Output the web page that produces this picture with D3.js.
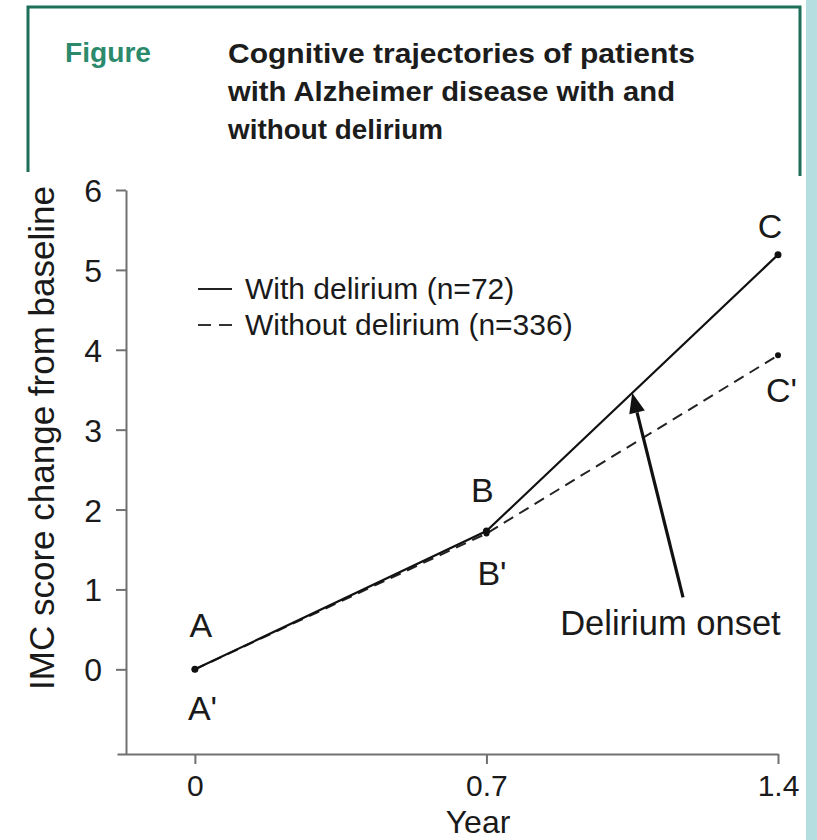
<!DOCTYPE html>
<html>
<head>
<meta charset="utf-8">
<script src="https://cdn.jsdelivr.net/npm/d3@7"></script>
<style>
  html, body { margin: 0; padding: 0; background: #ffffff; }
  svg { display: block; }
</style>
</head>
<body>
<svg id="chart" width="817" height="840"></svg>
<script>
// ---- data ----
const years = [0, 0.7, 1.4];
const withDelirium = [0, 1.73, 5.19];
const withoutDelirium = [0, 1.70, 3.93];
const withLabels = ["A", "B", "C"];
const withoutLabels = ["A'", "B'", "C'"];
const yTicks = [0, 1, 2, 3, 4, 5, 6];
const xTicks = [0, 0.7, 1.4];
const xTickLabels = ["0", "0.7", "1.4"];
const legendLabels = ["With delirium (n=72)", "Without delirium (n=336)"];
const titleLines = ["Cognitive trajectories of patients", "with Alzheimer disease with and", "without delirium"];
const onsetYear = 1.05;
const onsetTail = [1.172, 0.90];
const onsetTextAt = [0.877, 0.43];
const onsetText = "Delirium onset";

// ---- layout ----
const svg = d3.select("#chart");
const FONT = "'Liberation Sans', Arial, Helvetica, sans-serif";
const ink = "#1a1a1a";
const axisGray = "#707070";

// right light-blue strip
svg.append("rect").attr("x", 806).attr("y", 0).attr("width", 11).attr("height", 840).attr("fill", "#b5dee1");

// title box (open at bottom)
svg.append("path")
  .attr("d", "M28,172 L28,7 L800,7 L800,176")
  .attr("fill", "none").attr("stroke", "#1d6f57").attr("stroke-width", 3);

svg.append("text").attr("x", 65).attr("y", 62)
  .attr("font-family", "'Liberation Sans Narrow', " + FONT).attr("font-weight", "bold")
  .attr("font-size", 27).attr("fill", "#2b8a6c")
  .attr("textLength", 86).attr("lengthAdjust", "spacingAndGlyphs")
  .text("Figure");

const titleWidths = [467, 447, 215];
const titleBase = [63, 101, 139];
titleLines.forEach((t, i) => {
  svg.append("text").attr("x", 228).attr("y", titleBase[i])
    .attr("font-family", "'Liberation Sans Narrow', " + FONT).attr("font-weight", "bold")
    .attr("font-size", 28).attr("fill", "#1c1c1c")
    .attr("textLength", titleWidths[i]).attr("lengthAdjust", "spacingAndGlyphs")
    .text(t);
});

// ---- scales ----
const x = d3.scaleLinear().domain([-0.187, 1.4]).range([117, 778]);
const y = d3.scaleLinear().domain([-1.06, 6]).range([754, 190]);
const yAxisX = 126;

// y axis
const yAxis = d3.axisLeft(y).tickValues(yTicks).tickSize(10).tickSizeOuter(0).tickPadding(14).tickFormat(d3.format("d"));
const gy = svg.append("g").attr("transform", `translate(${yAxisX},0)`).call(yAxis);
gy.select(".domain").attr("stroke", axisGray).attr("stroke-width", 2);
gy.selectAll(".tick line").attr("stroke", axisGray).attr("stroke-width", 2);
gy.selectAll(".tick text").attr("font-family", FONT).attr("font-size", 32).attr("fill", ink).attr("dy", "0.36em");

// x axis
const xAxis = d3.axisBottom(x).tickValues(xTicks).tickSize(10).tickSizeOuter(0).tickPadding(11)
  .tickFormat((d, i) => xTickLabels[i]);
const gx = svg.append("g").attr("transform", `translate(0,${y(-1.06)})`).call(xAxis);
gx.select(".domain").attr("stroke", axisGray).attr("stroke-width", 2);
gx.selectAll(".tick line").attr("stroke", axisGray).attr("stroke-width", 2);
gx.selectAll(".tick text").attr("font-family", FONT).attr("font-size", 30).attr("fill", ink).attr("dy", "0.71em");

// axis titles
svg.append("text")
  .attr("transform", `translate(54,438) rotate(-90)`)
  .attr("text-anchor", "middle").attr("font-family", FONT).attr("font-size", 35).attr("fill", ink)
  .text("IMC score change from baseline");
svg.append("text").attr("x", 478).attr("y", 833)
  .attr("text-anchor", "middle").attr("font-family", FONT).attr("font-size", 32).attr("fill", ink)
  .text("Year");

// ---- lines ----
const line = d3.line().x(d => x(d[0])).y(d => y(d[1]));
const withData = years.map((yr, i) => [yr, withDelirium[i]]);
const withoutData = years.map((yr, i) => [yr, withoutDelirium[i]]);

svg.append("path").datum(withoutData).attr("d", line)
  .attr("fill", "none").attr("stroke", "#222").attr("stroke-width", 2).attr("stroke-dasharray", "11,7");
svg.append("path").datum(withData).attr("d", line)
  .attr("fill", "none").attr("stroke", "#111").attr("stroke-width", 2.2);

svg.selectAll("circle.w").data(withData).enter().append("circle")
  .attr("cx", d => x(d[0])).attr("cy", d => y(d[1])).attr("r", 3.5).attr("fill", "#111");
svg.selectAll("circle.wo").data(withoutData).enter().append("circle")
  .attr("cx", d => x(d[0])).attr("cy", d => y(d[1])).attr("r", 3).attr("fill", "#111");

// point labels
const withOff = [[6, -32, "middle"], [-4, -29, "middle"], [-8, -17, "middle"]];
const withoutOff = [[-7, 51, "start"], [-9, 51, "start"], [-12, 47, "start"]];
withData.forEach((d, i) => {
  svg.append("text").attr("x", x(d[0]) + withOff[i][0]).attr("y", y(d[1]) + withOff[i][1])
    .attr("text-anchor", withOff[i][2]).attr("font-family", FONT).attr("font-size", 34).attr("fill", ink)
    .text(withLabels[i]);
});
withoutData.forEach((d, i) => {
  svg.append("text").attr("x", x(d[0]) + withoutOff[i][0]).attr("y", y(d[1]) + withoutOff[i][1])
    .attr("text-anchor", withoutOff[i][2]).attr("font-family", FONT).attr("font-size", 34).attr("fill", ink)
    .text(withoutLabels[i]);
});

// ---- delirium onset arrow ----
const segT = (onsetYear - years[1]) / (years[2] - years[1]);
const onsetVal = withDelirium[1] + (withDelirium[2] - withDelirium[1]) * segT;
const tip = [x(onsetYear), y(onsetVal)];
const tail = [x(onsetTail[0]), y(onsetTail[1])];
const vx = tip[0] - tail[0], vy = tip[1] - tail[1];
const len = Math.hypot(vx, vy);
const ux = vx / len, uy = vy / len;
const headL = 20, headW = 8;
const base = [tip[0] - ux * headL, tip[1] - uy * headL];
svg.append("line").attr("x1", tail[0]).attr("y1", tail[1]).attr("x2", base[0]).attr("y2", base[1])
  .attr("stroke", "#111").attr("stroke-width", 3.2);
svg.append("path")
  .attr("d", `M${tip[0]},${tip[1]} L${base[0] - uy * headW},${base[1] + ux * headW} L${base[0] + uy * headW},${base[1] - ux * headW} Z`)
  .attr("fill", "#111");
svg.append("text").attr("x", x(onsetTextAt[0])).attr("y", y(onsetTextAt[1]))
  .attr("font-family", FONT).attr("font-size", 34.5).attr("fill", ink).text(onsetText);

// ---- legend ----
const legY = [289, 325];
const legBase = [299, 335];
svg.append("line").attr("x1", 198).attr("x2", 232).attr("y1", legY[0]).attr("y2", legY[0])
  .attr("stroke", "#222").attr("stroke-width", 2);
svg.append("line").attr("x1", 198).attr("x2", 233).attr("y1", legY[1]).attr("y2", legY[1])
  .attr("stroke", "#333").attr("stroke-width", 2).attr("stroke-dasharray", "13,8");
legendLabels.forEach((t, i) => {
  svg.append("text").attr("x", 245).attr("y", legBase[i])
    .attr("font-family", FONT).attr("font-size", 30).attr("fill", ink).text(t);
});
</script>
</body>
</html>
